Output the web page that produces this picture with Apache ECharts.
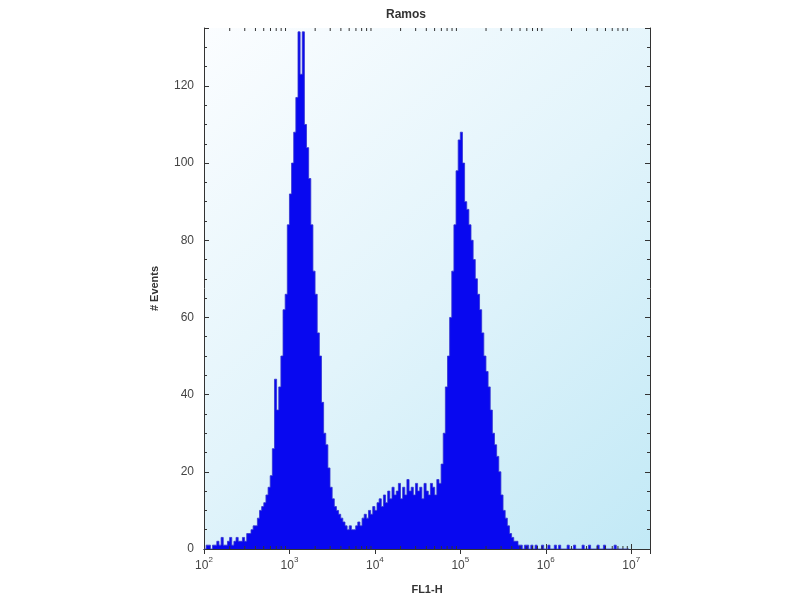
<!DOCTYPE html>
<html>
<head>
<meta charset="utf-8">
<script src="https://cdn.jsdelivr.net/npm/echarts@6/dist/echarts.min.js"></script>
<style>html,body{margin:0;padding:0;background:#fff;}#c{width:800px;height:600px;}</style>
</head>
<body>
<div id="c"></div>
<script>
// Histogram bins: log10 start and bin width (in decades)
var binStartLog = 2;
var binWidthLog = 0.025;
// Counts per bin (# Events)
var counts = [
  0,1,1,0,1,1,2,1,3,1, 1,2,3,1,2,3,2,2,3,2,
  4,4,5,6,6,8,10,11,12,14, 16,19,26,44,36,42,50,62,66,84,
  92,100,108,117,134,123,134,110,104,96, 84,72,66,56,50,38,30,27,21,16,
  13,11,10,9,8,7,6,5,6,5, 5,6,7,6,8,9,8,10,9,11,
  10,12,13,11,14,12,15,13,16,14, 15,17,13,16,14,18,15,16,14,17,
  15,16,13,17,15,14,17,16,14,18, 17,22,30,42,50,60,72,84,98,106,
  108,100,90,88,84,80,75,70,66,62, 56,50,46,42,36,30,27,24,20,14,
  10,8,6,4,3,2,2,1,1,0, 1,1,0,1,0,1,0,0,1,0,
  0,1,0,0,1,0,1,0,0,0, 1,0,0,1,0,0,0,1,0,0,
  1,0,0,0,1,0,0,1,0,0, 0,0,1,0,0,0,0,0,0
];
var xTickExponents = [2,3,4,5,6,7];
var yTicks = [0,20,40,60,80,100,120];
var minorMultipliers = [2,3,4,5,6,7,8,9];

var xMin = 100, xMax = Math.pow(10, 7.22), yMax = 135;

var lineData = counts.map(function(c, i){ return [Math.pow(10, binStartLog + binWidthLog*i), c]; });
lineData.push([Math.pow(10, binStartLog + binWidthLog*counts.length), 0]);

var minorVals = [];
xTickExponents.forEach(function(e){
  minorMultipliers.forEach(function(m){
    var v = m*Math.pow(10,e);
    if (v > xMin && v < xMax) minorVals.push([v]);
  });
});

var chart = echarts.init(document.getElementById('c'));
var axisColor = '#333';
var labelColor = '#444';
var font = 'Liberation Sans, Arial, sans-serif';

function xFmt(v){
  var e = Math.round(Math.log(v)/Math.LN10);
  return '{b|10}{s|' + e + '}';
}

chart.setOption({
  animation: false,
  backgroundColor: '#fff',
  title: {
    text: 'Ramos', left: 381, top: 4,
    textStyle: {fontSize: 12, fontWeight: 'bold', color: '#333', fontFamily: font}
  },
  grid: {
    left: 204, right: 150, top: 28, bottom: 50, show: true, borderWidth: 0,
    backgroundColor: {type: 'linear', x: 0, y: 0, x2: 1, y2: 1,
      colorStops: [{offset: 0, color: '#fbfdff'}, {offset: 0.5, color: '#e2f4fb'}, {offset: 1, color: '#c2e9f6'}]}
  },
  xAxis: [{
    type: 'log', logBase: 10, min: xMin, max: xMax, position: 'bottom',
    name: 'FL1-H', nameLocation: 'middle', nameGap: 35,
    nameTextStyle: {fontSize: 11, fontWeight: 'bold', color: '#333', fontFamily: font},
    axisLine: {show: true, lineStyle: {color: axisColor, width: 1}},
    axisTick: {show: true, inside: true, length: 5, lineStyle: {color: axisColor}},
    splitLine: {show: false},
    axisLabel: {show: true, margin: 7, showMaxLabel: false, formatter: xFmt,
      rich: {
        b: {fontSize: 12, color: labelColor, fontFamily: font, lineHeight: 16, verticalAlign: 'bottom'},
        s: {fontSize: 8, color: labelColor, fontFamily: font, lineHeight: 9, verticalAlign: 'top'}
      }}
  }, {
    type: 'log', logBase: 10, min: xMin, max: xMax, position: 'top',
    axisLine: {show: true, lineStyle: {color: axisColor, width: 1}},
    axisTick: {show: true, inside: true, length: 5, lineStyle: {color: axisColor}},
    splitLine: {show: false},
    axisLabel: {show: false}
  }],
  yAxis: [{
    type: 'value', min: 0, max: yMax, interval: 20, position: 'left',
    name: '# Events', nameLocation: 'middle', nameGap: 44, nameRotate: 90,
    nameTextStyle: {fontSize: 11, fontWeight: 'bold', color: '#333', fontFamily: font},
    axisLine: {show: true, lineStyle: {color: axisColor, width: 1}},
    axisTick: {show: true, inside: true, length: 5, lineStyle: {color: axisColor}},
    minorTick: {show: true, splitNumber: 4, length: 3, lineStyle: {color: axisColor}},
    splitLine: {show: false},
    axisLabel: {show: true, margin: 10, showMaxLabel: false, fontSize: 12, color: labelColor, fontFamily: font}
  }, {
    type: 'value', min: 0, max: yMax, interval: 20, position: 'right',
    axisLine: {show: true, lineStyle: {color: axisColor, width: 1}},
    axisTick: {show: true, inside: true, length: 5, lineStyle: {color: axisColor}},
    minorTick: {show: true, splitNumber: 4, length: 3, lineStyle: {color: axisColor}},
    splitLine: {show: false},
    axisLabel: {show: false}
  }],
  series: [{
    type: 'line', xAxisIndex: 0, yAxisIndex: 0, step: 'end', symbol: 'none',
    data: lineData,
    lineStyle: {color: '#3434d0', width: 0.8},
    areaStyle: {color: '#0808f0', opacity: 1},
    z: 2
  }, {
    type: 'custom', xAxisIndex: 0, yAxisIndex: 0, data: minorVals, silent: true, clip: false, z: 5,
    renderItem: function(params, api){
      var b = api.coord([api.value(0), 0]);
      var t = api.coord([api.value(0), yMax]);
      var st = {stroke: axisColor, lineWidth: 1};
      return {type: 'group', children: [
        {type: 'line', shape: {x1: b[0], y1: b[1], x2: b[0], y2: b[1]-3}, style: st},
        {type: 'line', shape: {x1: t[0], y1: t[1], x2: t[0], y2: t[1]+3}, style: st}
      ]};
    }
  }]
});
</script>
</body>
</html>
